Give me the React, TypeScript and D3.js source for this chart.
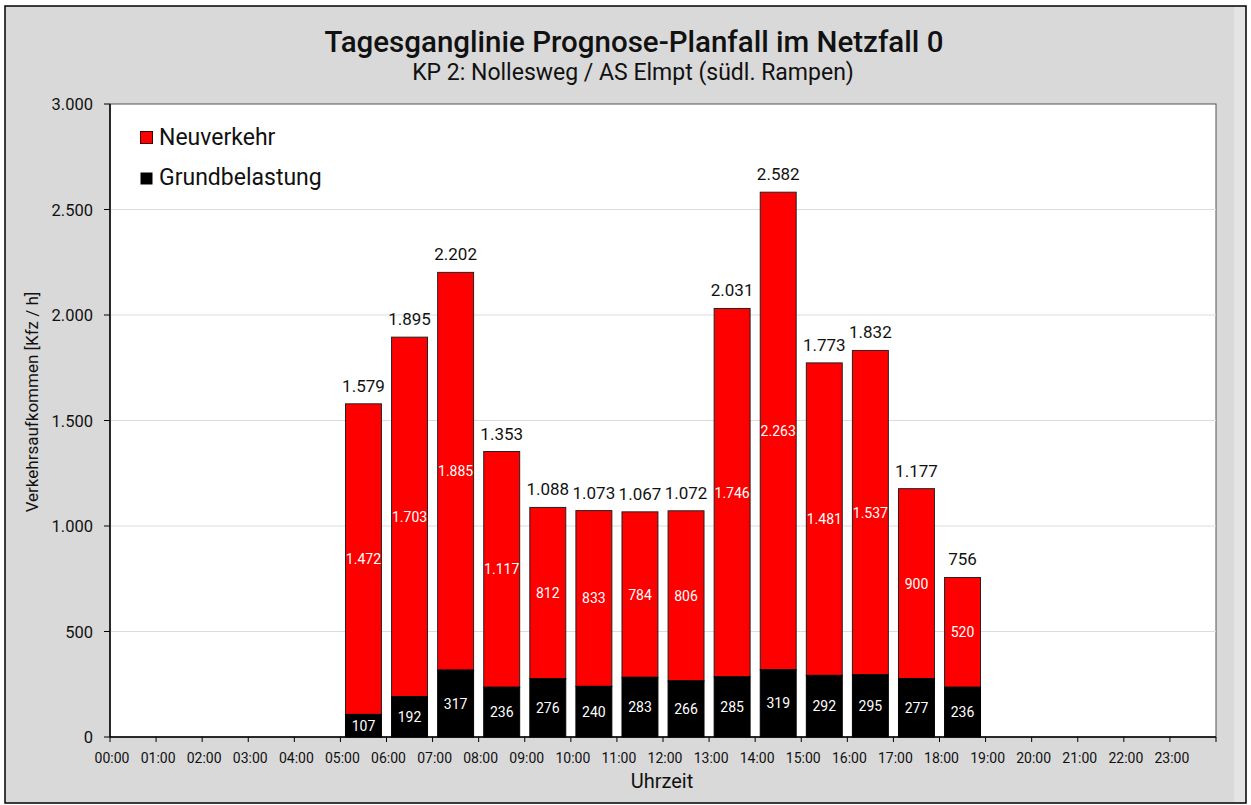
import React from "react";
import * as d3 from "d3";

const hours = d3.range(24).map((h) => String(h).padStart(2, "0") + ":00");
const barHours = ["05:00","06:00","07:00","08:00","09:00","10:00","11:00","12:00","13:00","14:00","15:00","16:00","17:00","18:00"];
const grundbelastung = [107,192,317,236,276,240,283,266,285,319,292,295,277,236];
const neuverkehr = [1472,1703,1885,1117,812,833,784,806,1746,2263,1481,1537,900,520];
const yTicks = [0,500,1000,1500,2000,2500,3000];

const W = 1251, H = 805;
const left = 110, right = 1216, top = 104, bottom = 737;
const FONT = "Roboto, 'Noto Sans', sans-serif";

const fmt = (v: number) => d3.format(",")(v).replace(/,/g, ".");

export default function App() {
  const x = d3.scaleBand<string>().domain(hours).range([left, right]).paddingInner(0.22).paddingOuter(0.11);
  const xEdge = d3.scaleLinear().domain([0, 24]).range([left, right]);
  const y = d3.scaleLinear().domain([0, 3000]).range([bottom, top]);

  return (
    <svg width={W} height={H} style={{ position: "absolute", left: 0, top: 0, fontFamily: FONT }}>
      <rect x={5} y={6} width={1241} height={797} fill="#d9d9d9" stroke="#000" strokeWidth={1.5} />
      <rect x={1234} y={7} width={11} height={795} fill="#e4e4e4" />
      <text x={634} y={52} textAnchor="middle" fontSize={29.5} fontWeight={500} fill="#111">Tagesganglinie Prognose-Planfall im Netzfall 0</text>
      <text x={633} y={80} textAnchor="middle" fontSize={23} fill="#111">KP 2: Nollesweg / AS Elmpt (südl. Rampen)</text>

      <rect x={left} y={top} width={right - left} height={bottom - top} fill="#fff" stroke="#555" strokeWidth={1} />
      {yTicks.filter((t) => t > 0 && t < 3000).map((t) => (
        <line key={"g" + t} x1={left} x2={right} y1={y(t)} y2={y(t)} stroke="#dcdcdc" strokeWidth={1} />
      ))}

      {barHours.map((h, i) => {
        const g = grundbelastung[i], n = neuverkehr[i], tot = g + n;
        const bx = x(h)!, bw = x.bandwidth();
        return (
          <g key={h}>
            <rect x={bx} y={y(tot)} width={bw} height={y(g) - y(tot)} fill="#ff0000" stroke="#222" strokeWidth={1} />
            <rect x={bx} y={y(g)} width={bw} height={y(0) - y(g)} fill="#000" stroke="#000" strokeWidth={1} />
            <text x={bx + bw / 2} y={(y(g) + y(0)) / 2 + 5} textAnchor="middle" fontSize={14} fill="#fff">{fmt(g)}</text>
            <text x={bx + bw / 2} y={(y(tot) + y(g)) / 2 + 5} textAnchor="middle" fontSize={14} fill="#fff">{fmt(n)}</text>
            <text x={bx + bw / 2} y={y(tot) - 12} textAnchor="middle" fontSize={17} fill="#111">{fmt(tot)}</text>
          </g>
        );
      })}

      <line x1={left} x2={left} y1={top} y2={bottom} stroke="#000" strokeWidth={1.5} />
      <line x1={left} x2={right} y1={bottom} y2={bottom} stroke="#000" strokeWidth={1.5} />
      {yTicks.map((t) => (
        <g key={"y" + t}>
          <line x1={left - 6} x2={left} y1={y(t)} y2={y(t)} stroke="#000" />
          <text x={93} y={y(t) + 6} textAnchor="end" fontSize={16.5} fill="#111">{fmt(t)}</text>
        </g>
      ))}
      {d3.range(25).map((k) => (
        <line key={"xt" + k} x1={xEdge(k)} x2={xEdge(k)} y1={bottom} y2={bottom + 5} stroke="#000" />
      ))}
      {hours.map((h, k) => (
        <text key={"xl" + h} x={xEdge(k) + 2} y={763} textAnchor="middle" fontSize={14} fill="#111">{h}</text>
      ))}
      <text x={662} y={788} textAnchor="middle" fontSize={20} fill="#111">Uhrzeit</text>
      <text transform="translate(38,402) rotate(-90)" textAnchor="middle" fontSize={17} fill="#111">Verkehrsaufkommen [Kfz / h]</text>

      <rect x={140.5} y={131.5} width={12} height={12} fill="#ff0000" stroke="#400" strokeWidth={1} />
      <text x={159} y={145} fontSize={23} fill="#111">Neuverkehr</text>
      <rect x={140.5} y={172.5} width={12} height={12} fill="#000" />
      <text x={159} y={185} fontSize={23} fill="#111">Grundbelastung</text>
    </svg>
  );
}
